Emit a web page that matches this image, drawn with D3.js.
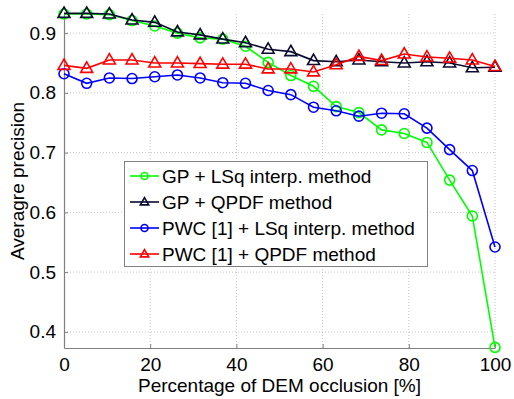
<html>
<head>
<script src="https://cdn.jsdelivr.net/npm/d3@7"></script>
<style>
  body { margin: 0; background: #fff; }
  svg { font-family: "Liberation Sans", Arial, sans-serif; }
</style>
</head>
<body>
<svg id="svg"></svg>
<script>
// occlusion percentages (20 evenly spaced samples)
var occlusion = d3.range(20).map(function(i){ return i * 100 / 19; });

var gpLsq   = [0.932,0.932,0.931,0.921,0.912,0.900,0.892,0.890,0.878,0.851,0.829,0.811,0.777,0.767,0.738,0.732,0.717,0.654,0.594,0.374];
var gpQpdf  = [0.933,0.933,0.932,0.922,0.918,0.902,0.897,0.890,0.884,0.873,0.869,0.854,0.852,0.855,0.852,0.850,0.852,0.850,0.842,0.843];
var pwcLsq  = [0.832,0.816,0.825,0.824,0.827,0.830,0.825,0.817,0.816,0.804,0.797,0.776,0.770,0.761,0.766,0.765,0.741,0.705,0.670,0.542];
var pwcQpdf = [0.846,0.841,0.855,0.855,0.850,0.850,0.849,0.848,0.848,0.840,0.840,0.835,0.847,0.861,0.854,0.865,0.860,0.858,0.855,0.844];

var seriesNames = ["GP + LSq interp. method", "GP + QPDF method", "PWC [1] + LSq interp. method", "PWC [1] + QPDF method"];
var xTicks = [0, 20, 40, 60, 80, 100];
var yTicks = [0.4, 0.5, 0.6, 0.7, 0.8, 0.9];

var series = [
  {name: seriesNames[0], values: gpLsq,   color: "#00ff00", marker: "circle"},
  {name: seriesNames[1], values: gpQpdf,  color: "#0a0a30", marker: "triangle"},
  {name: seriesNames[2], values: pwcLsq,  color: "#0000ff", marker: "circle"},
  {name: seriesNames[3], values: pwcQpdf, color: "#ff0000", marker: "triangle"}
];

var width = 514, height = 399;
var mLeft = 64, mRight = 495, mTop = 14, mBottom = 348;
var fontSize = 19;

var svg = d3.select("svg").attr("width", width).attr("height", height);

var xScale = d3.scaleLinear().domain([0, 100]).range([mLeft, mRight]);
var yScale = d3.scaleLinear().domain([0.373, 0.932]).range([mBottom, mTop]);

// grid
var grid = svg.append("g");
grid.selectAll(".vg").data(xTicks.slice(1)).enter().append("line")
  .attr("x1", function(d){ return xScale(d); }).attr("x2", function(d){ return xScale(d); })
  .attr("y1", mTop).attr("y2", mBottom)
  .attr("stroke", "#c4c4c4").attr("stroke-dasharray", "1,2");
grid.selectAll(".hg").data(yTicks).enter().append("line")
  .attr("x1", mLeft).attr("x2", mRight)
  .attr("y1", function(d){ return yScale(d); }).attr("y2", function(d){ return yScale(d); })
  .attr("stroke", "#c4c4c4").attr("stroke-dasharray", "1,2");

// axes
var xAxis = d3.axisBottom(xScale).tickValues(xTicks).tickSizeInner(-4).tickSizeOuter(0).tickPadding(10);
var yAxis = d3.axisLeft(yScale).tickValues(yTicks).tickSizeInner(-4).tickSizeOuter(0).tickPadding(8)
  .tickFormat(d3.format(".1f"));

var gX = svg.append("g").attr("transform", "translate(0," + mBottom + ")").call(xAxis);
var gY = svg.append("g").attr("transform", "translate(" + mLeft + ",0)").call(yAxis);
[gX, gY].forEach(function(g){
  g.select(".domain").attr("stroke", "#808080").attr("stroke-width", 1.2);
  g.selectAll(".tick line").attr("stroke", "#808080");
  g.selectAll("text").attr("font-size", fontSize).attr("fill", "#000").attr("font-family", "Liberation Sans, Arial, sans-serif");
});

// axis labels
svg.append("text").attr("x", (mLeft + mRight) / 2).attr("y", 392)
  .attr("text-anchor", "middle").attr("font-size", fontSize).text("Percentage of DEM occlusion [%]");
svg.append("text").attr("transform", "translate(24," + ((mTop + mBottom) / 2) + ") rotate(-90)")
  .attr("text-anchor", "middle").attr("font-size", fontSize).text("Averagre precision");

function drawMarker(g, type, color, x, y, scale) {
  if (type === "circle") {
    g.append("circle").attr("cx", x).attr("cy", y).attr("r", 5 * scale)
      .attr("fill", "none").attr("stroke", color).attr("stroke-width", 1.6);
  } else {
    g.append("path").attr("d", d3.symbol().type(d3.symbolTriangle).size(62 * scale * scale))
      .attr("transform", "translate(" + x + "," + (y + 0.5) + ")")
      .attr("fill", "none").attr("stroke", color).attr("stroke-width", 1.6);
  }
}

var line = d3.line()
  .x(function(d, i){ return xScale(occlusion[i]); })
  .y(function(d){ return yScale(d); });

series.forEach(function(s){
  var g = svg.append("g");
  g.append("path").datum(s.values).attr("d", line)
    .attr("fill", "none").attr("stroke", s.color).attr("stroke-width", 1.6);
  s.values.forEach(function(v, i){
    drawMarker(g, s.marker, s.color, xScale(occlusion[i]), yScale(v), 1);
  });
});

// legend
var lg = svg.append("g");
lg.append("rect").attr("x", 124.5).attr("y", 161.5).attr("width", 303).attr("height", 105)
  .attr("fill", "#fff").attr("stroke", "#808080").attr("stroke-width", 1);
series.forEach(function(s, i){
  var y = 176 + i * 26;
  lg.append("line").attr("x1", 130).attr("x2", 159).attr("y1", y).attr("y2", y)
    .attr("stroke", s.color).attr("stroke-width", 1.6);
  drawMarker(lg, s.marker, s.color, 144.5, y, 0.7);
  lg.append("text").attr("x", 162).attr("y", y + 7).attr("font-size", fontSize).text(s.name);
});
</script>
</body>
</html>
